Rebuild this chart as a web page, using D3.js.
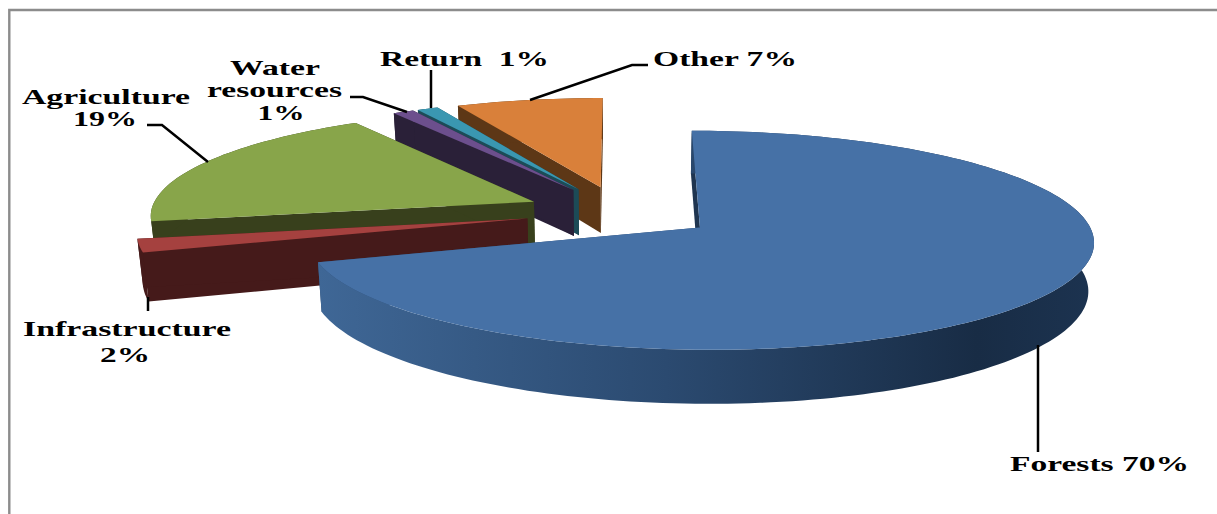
<!DOCTYPE html>
<html>
  <head>
    <script src="https://d3js.org/d3.v7.min.js"></script>
    <style>
      html, body { margin: 0; padding: 0; background: #fff; }
      svg { display: block; }
      text { font-family: "Liberation Serif", serif; font-weight: bold; fill: #000; font-size: 21px; }
    </style>
  </head>
  <body>
    <svg id="chart" width="1217" height="514"></svg>
    <script>
      // values, clockwise from 12 o'clock
      const categories = ["Forests", "Infrastructure", "Agriculture", "Water resources", "Return", "Other"];
      const shares = [70, 2, 19, 1, 1, 7];
      const topColors = ["#4671a6", "#a5413f", "#88a54a", "#6c4f8d", "#3a97b1", "#d9803a"];
      const sideColors = ["#2c4a70", "#451a1a", "#38401c", "#2a2038", "#1c4b57", "#5d3716"];

      // label text lines, [x centre, baseline, width]
      const labelLines = [
        ["Forests 70%", 1099.5, 471, 179],
        ["Infrastructure", 127, 336, 208],
        ["2%", 125, 362, 50],
        ["Agriculture", 106, 103.5, 168],
        ["19%", 105, 125.5, 64],
        ["Water", 275, 75, 90],
        ["resources", 274.5, 97, 135],
        ["1%", 281, 120, 47],
        ["Return  1%", 464.5, 66, 169],
        ["Other 7%", 725, 66, 144]
      ];
      const leaders = [
        [[1038, 345], [1038, 452]],
        [[148, 297], [148, 311]],
        [[147, 125], [162, 125], [208, 162]],
        [[350, 97], [363, 97], [407, 112]],
        [[431, 70], [431, 108]],
        [[530, 100], [632, 65], [648, 65]]
      ];

      const radius = 380, explode = 95, depth = 47;
      const vanishX = 621, originY = 212, focal = 3350, tilt = 0.275;
      const xStretch = 1.01;
      const bottomShrink = 0.012; // the bottom face is a bit narrower than the top

      const svg = d3.select("#chart");

      // plane coords -> screen, z is the drop below the top face
      function project(x, y, z) {
        const s = focal / (focal - y);
        const k = xStretch * (1 - (z || 0) / depth * bottomShrink);
        return [vanishX + x * s * k, originY + y * tilt * s + (z || 0) * s];
      }

      const pie = d3.pie().sort(null);
      const arcs = pie(shares);

      const defs = svg.append("defs");
      const grad = defs.append("linearGradient")
        .attr("id", "forestSide")
        .attr("gradientUnits", "userSpaceOnUse")
        .attr("x1", 318).attr("x2", 1093).attr("y1", 0).attr("y2", 0);
      grad.append("stop").attr("offset", 0).attr("stop-color", "#3f6796");
      grad.append("stop").attr("offset", 0.45).attr("stop-color", "#2b4a70");
      grad.append("stop").attr("offset", 0.85).attr("stop-color", "#182c45");
      grad.append("stop").attr("offset", 1).attr("stop-color", "#1c3350");

      const line = d3.line();

      function sliceGeom(d) {
        const mid = (d.startAngle + d.endAngle) / 2;
        const ax = Math.sin(mid) * explode, ay = -Math.cos(mid) * explode;
        const angles = d3.range(0, 1.0001, 1 / Math.max(4, Math.ceil((d.endAngle - d.startAngle) * 40)))
          .map(t => d.startAngle + t * (d.endAngle - d.startAngle));
        const rim = angles.map(a => [ax + Math.sin(a) * radius, ay - Math.cos(a) * radius]);
        return { apex: [ax, ay], rim };
      }

      // far slices first
      const order = [5, 4, 3, 2, 1, 0];
      order.forEach(i => {
        const g = sliceGeom(arcs[i]);
        const group = svg.append("g").attr("class", "slice").attr("data-name", categories[i]);
        const side = i === 0 ? "url(#forestSide)" : sideColors[i];
        const faceColor = i === 0 ? "#1f3550" : sideColors[i];

        const wall = pts => {
          const top = pts.map(p => project(p[0], p[1], 0));
          const bottom = pts.map(p => project(p[0], p[1], depth)).reverse();
          return line(top.concat(bottom)) + "Z";
        };
        const first = g.rim[0], last = g.rim[g.rim.length - 1];

        group.append("path").attr("d", wall([g.apex, first])).attr("fill", faceColor);
        group.append("path").attr("d", wall([g.apex, last])).attr("fill", sideColors[i]);
        group.append("path").attr("d", wall(g.rim)).attr("fill", side);
        group.append("path")
          .attr("d", line([g.apex].concat(g.rim).map(p => project(p[0], p[1], 0))) + "Z")
          .attr("fill", topColors[i]);
      });

      svg.append("g").selectAll("path").data(leaders).join("path")
        .attr("d", d => line(d))
        .attr("fill", "none")
        .attr("stroke", "#000")
        .attr("stroke-width", 2.5);

      svg.append("g").selectAll("text").data(labelLines).join("text")
        .attr("x", d => d[1])
        .attr("y", d => d[2])
        .attr("text-anchor", "middle")
        .attr("textLength", d => d[3])
        .attr("lengthAdjust", "spacingAndGlyphs")
        .attr("xml:space", "preserve")
        .text(d => d[0]);

      // frame
      svg.append("path")
        .attr("d", "M9.3,514V10H1217")
        .attr("fill", "none")
        .attr("stroke", "#8c8c8c")
        .attr("stroke-width", 2.4);
    </script>
  </body>
</html>
